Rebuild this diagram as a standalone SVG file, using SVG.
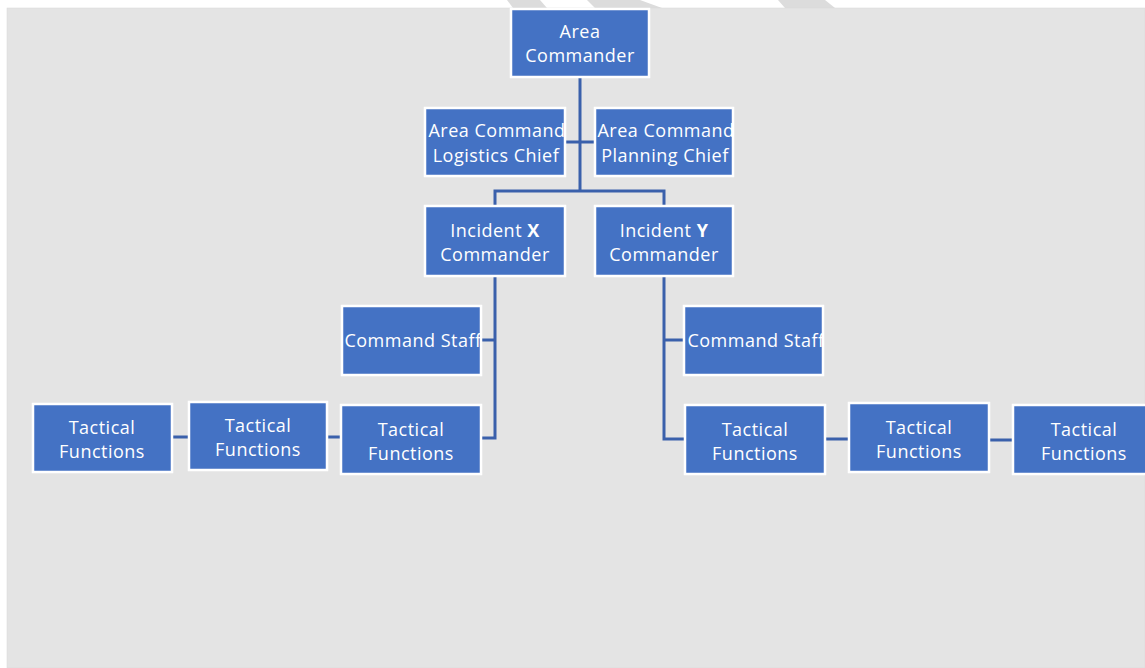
<svg xmlns="http://www.w3.org/2000/svg" width="1145" height="668" viewBox="0 0 1145 668">
<style>
.box{fill:#4472c4;stroke:#ffffff;stroke-width:2.5}
.t{font-family:"Open Sans","Noto Sans",sans-serif;font-size:18px;letter-spacing:0.5px;fill:#ffffff;text-anchor:middle}
.c{fill:none;stroke:#3a60ab;stroke-width:3}
.wm{fill:#dcdcdc}
</style>
<defs>
<clipPath id="cl1"><rect x="425" y="108" width="140" height="68"/></clipPath>
<clipPath id="cl2"><rect x="595" y="108" width="138" height="68"/></clipPath>
<clipPath id="cl3"><rect x="342" y="306" width="139" height="69"/></clipPath>
<clipPath id="cl4"><rect x="684" y="306" width="139" height="69"/></clipPath>
</defs>
<rect x="0" y="0" width="1145" height="668" fill="#ffffff"/>
<g id="watermark">
<polygon class="wm" points="507,0 540,0 547,8 513,8"/>
<polygon class="wm" points="587,0 640,0 662,8 595,8"/>
<polygon class="wm" points="778,0 825,0 835,8 785,8"/>
</g>
<rect x="7" y="8" width="1138" height="660" fill="#e4e4e4" stroke="#d8d8d8" stroke-width="0.5"/>
<g id="connectors">
<path class="c" d="M580,78 V191"/>
<path class="c" d="M566,142 H594"/>
<path class="c" d="M495,206 V191 H664 V206"/>
<path class="c" d="M495,277 V438 H482" stroke-width="3.5"/>
<path class="c" d="M481,340 H495"/>
<path class="c" d="M664,277 V439 H684" stroke-width="3.5"/>
<path class="c" d="M664,340 H684"/>
<path class="c" d="M328,437 H340" stroke-width="4"/>
<path class="c" d="M173,437 H188"/>
<path class="c" d="M826,439 H848" stroke-width="5"/>
<path class="c" d="M990,440 H1012"/>
</g>
<g id="area-commander">
<rect class="box" x="511" y="9" width="138" height="68"/>
<text class="t" x="580" y="38">Area</text>
<text class="t" x="580" y="62">Commander</text>
</g>
<g id="logistics-chief">
<rect class="box" x="425" y="108" width="140" height="68"/>
<g clip-path="url(#cl1)">
<text class="t" x="497" y="137">Area Command</text>
<text class="t" x="496" y="162">Logistics Chief</text>
</g>
</g>
<g id="planning-chief">
<rect class="box" x="595" y="108" width="138" height="68"/>
<g clip-path="url(#cl2)">
<text class="t" x="666" y="137">Area Command</text>
<text class="t" x="665" y="162">Planning Chief</text>
</g>
</g>
<g id="incident-x">
<rect class="box" x="425" y="206" width="140" height="70"/>
<text class="t" x="495" y="237">Incident <tspan font-weight="bold">X</tspan></text>
<text class="t" x="495" y="261">Commander</text>
</g>
<g id="incident-y">
<rect class="box" x="595" y="206" width="138" height="70"/>
<text class="t" x="664" y="237">Incident <tspan font-weight="bold">Y</tspan></text>
<text class="t" x="664" y="261">Commander</text>
</g>
<g id="command-staff-x">
<rect class="box" x="342" y="306" width="139" height="69"/>
<g clip-path="url(#cl3)"><text class="t" x="413" y="347">Command Staff</text></g>
</g>
<g id="command-staff-y">
<rect class="box" x="684" y="306" width="139" height="69"/>
<g clip-path="url(#cl4)"><text class="t" x="756" y="347">Command Staff</text></g>
</g>
<g id="tactical-x1">
<rect class="box" x="341" y="405" width="140" height="69"/>
<text class="t" x="411" y="436">Tactical</text>
<text class="t" x="411" y="460">Functions</text>
</g>
<g id="tactical-x2">
<rect class="box" x="189" y="402" width="138" height="68"/>
<text class="t" x="258" y="432">Tactical</text>
<text class="t" x="258" y="456">Functions</text>
</g>
<g id="tactical-x3">
<rect class="box" x="33" y="404" width="139" height="68"/>
<text class="t" x="102" y="434">Tactical</text>
<text class="t" x="102" y="458">Functions</text>
</g>
<g id="tactical-y1">
<rect class="box" x="685" y="405" width="140" height="69"/>
<text class="t" x="755" y="436">Tactical</text>
<text class="t" x="755" y="460">Functions</text>
</g>
<g id="tactical-y2">
<rect class="box" x="849" y="403" width="140" height="69"/>
<text class="t" x="919" y="434">Tactical</text>
<text class="t" x="919" y="458">Functions</text>
</g>
<g id="tactical-y3">
<rect class="box" x="1013" y="405" width="140" height="69"/>
<text class="t" x="1084" y="436">Tactical</text>
<text class="t" x="1084" y="460">Functions</text>
</g>
</svg>
